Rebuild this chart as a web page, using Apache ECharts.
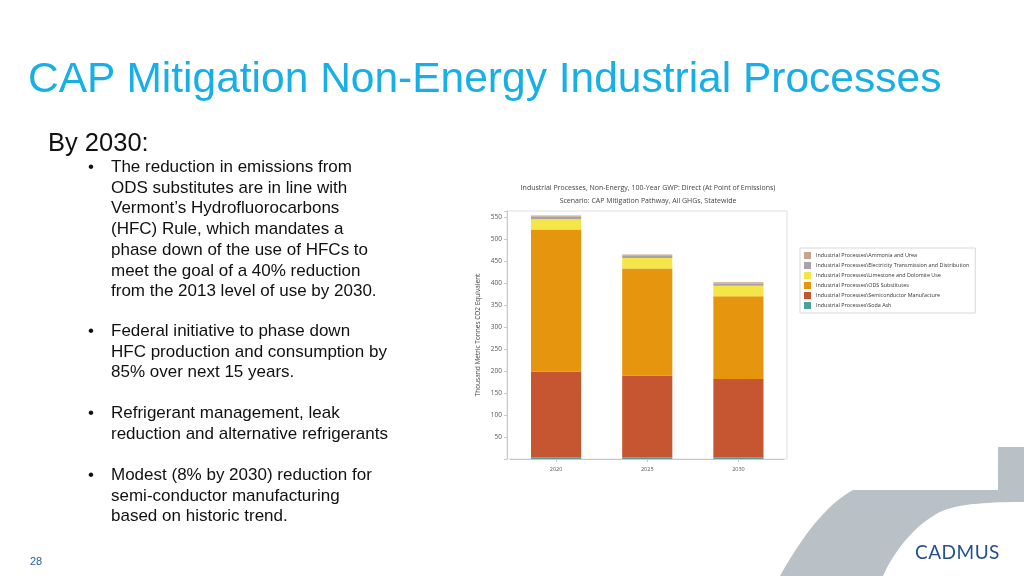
<!DOCTYPE html>
<html><head><meta charset="utf-8">
<script src="https://cdn.jsdelivr.net/npm/echarts@6/dist/echarts.min.js"></script>
<style>
html,body{margin:0;padding:0;background:#fff;}
#wrap{position:relative;width:1024px;height:576px;overflow:hidden;font-family:"Liberation Sans",Arial,sans-serif;}
#deco{position:absolute;left:0;top:0;}
#chart{position:absolute;left:0;top:0;width:1024px;height:576px;}
.t{position:absolute;white-space:nowrap;}
#title{left:28px;top:54px;font-size:42.5px;color:#17afe6;}
#by{left:48px;top:128px;font-size:25.5px;color:#111;}
.blt{position:absolute;left:88px;font-size:17px;color:#111;line-height:20.7px;white-space:nowrap;}
.blt span.b{position:absolute;left:0;}
.blt div{margin-left:23px;}
#pg{left:30px;top:555px;font-size:11px;color:#1f5fa8;}
#logo{left:915px;top:540px;font-size:19px;color:#24508f;letter-spacing:0.5px;font-family:"Lato","Liberation Sans",sans-serif;}
</style></head>
<body><div id="wrap">
<svg id="deco" width="1024" height="576"><path d="M780 576 C800 540 825 505 853 490 L998 490 L998 447 L1024 447 L1024 502 C980 502 955 505 940 512 C915 525 895 550 883 576 Z" fill="#b9c1c6"/></svg>
<div id="chart"></div>
<div class="t" id="title">CAP Mitigation Non-Energy Industrial Processes</div>
<div class="t" id="by">By 2030:</div>
<div class="blt" style="top:157px"><span class="b">•</span><div>The reduction in emissions from<br>ODS substitutes are in line with<br>Vermont’s Hydrofluorocarbons<br>(HFC) Rule, which mandates a<br>phase down of the use of HFCs to<br>meet the goal of a 40% reduction<br>from the 2013 level of use by 2030.</div></div>
<div class="blt" style="top:321px"><span class="b">•</span><div>Federal initiative to phase down<br>HFC production and consumption by<br>85% over next 15 years.</div></div>
<div class="blt" style="top:403px"><span class="b">•</span><div>Refrigerant management, leak<br>reduction and alternative refrigerants</div></div>
<div class="blt" style="top:465px"><span class="b">•</span><div>Modest (8% by 2030) reduction for<br>semi-conductor manufacturing<br>based on historic trend.</div></div>
<div class="t" id="pg">28</div>
<div class="t" id="logo">CADMUS</div>
</div>
<script>
const categories = ['2020', '2025', '2030'];
const sodaAsh = [4, 4, 4];
const semiconductor = [195, 186, 178];
const odsSubstitutes = [323, 243, 188];
const limestone = [23, 24, 24];
const electricityTD = [6, 5, 5];
const ammoniaUrea = [3, 3, 3];
const yTicks = [50, 100, 150, 200, 250, 300, 350, 400, 450, 500, 550];

const names = {
  amm: 'Industrial Processes\\Ammonia and Urea',
  ele: 'Industrial Processes\\Electricity Transmission and Distribution',
  lim: 'Industrial Processes\\Limestone and Dolomite Use',
  ods: 'Industrial Processes\\ODS Substitutes',
  sem: 'Industrial Processes\\Semiconductor Manufacture',
  soda: 'Industrial Processes\\Soda Ash'
};
const colors = {amm:'#c7a58c', ele:'#a9a2a6', lim:'#f4e548', ods:'#e6960e', sem:'#c65531', soda:'#4f9f9c'};

function s(key, data){
  return {name:names[key], type:'bar', stack:'t', data:data, barWidth:'55%',
    itemStyle:{color:colors[key]}, emphasis:{disabled:true}};
}
const chart = echarts.init(document.getElementById('chart'));
const sans = '"Open Sans","Noto Sans",sans-serif';
chart.setOption({
  animation:false,
  title:{text:'Industrial Processes, Non-Energy, 100-Year GWP: Direct (At Point of Emissions)\nScenario: CAP Mitigation Pathway, All GHGs, Statewide',
    left:643, top:176, textAlign:'center',
    textStyle:{fontSize:7, fontWeight:'normal', color:'#444', fontFamily:sans, lineHeight:13}},
  legend:{orient:'vertical', left:800, top:248, itemWidth:7, itemHeight:7, itemGap:3,
    padding:[4,6,4,4], borderColor:'#d8d8d8', borderWidth:1, icon:'rect', selectedMode:false,
    data:[names.amm, names.ele, names.lim, names.ods, names.sem, names.soda],
    textStyle:{fontSize:5.4, color:'#333', fontFamily:sans}},
  grid:{left:510.5, top:211, width:273.5, height:248, show:false},
  xAxis:{type:'category', data:categories,
    axisLine:{lineStyle:{color:'#c8c8c8'}}, axisTick:{show:true, alignWithLabel:true, length:3, lineStyle:{color:'#c8c8c8'}},
    axisLabel:{fontSize:5.5, color:'#555', fontFamily:sans, margin:7}},
  yAxis:{type:'value', min:0, max:564, interval:50, offset:3.5,
    name:'Thousand Metric Tonnes CO2 Equivalent', nameLocation:'middle', nameGap:25,
    nameTextStyle:{fontSize:6.5, color:'#444', fontFamily:sans},
    axisLine:{show:true, lineStyle:{color:'#c8c8c8'}}, axisTick:{show:true, length:3, lineStyle:{color:'#c8c8c8'}},
    splitLine:{show:false},
    axisLabel:{fontSize:6.5, color:'#555', fontFamily:sans, margin:5,
      formatter:function(v){return yTicks.indexOf(v)>=0 ? String(v) : '';}}},
  series:[s('soda',sodaAsh), s('sem',semiconductor), s('ods',odsSubstitutes), s('lim',limestone), s('ele',electricityTD), s('amm',ammoniaUrea)],
  graphic:[{type:'rect', silent:true, z:-1, shape:{x:507, y:211, width:280, height:248},
    style:{fill:'none', stroke:'#e0e0e0', lineWidth:1}}]
});
</script>
</body></html>
